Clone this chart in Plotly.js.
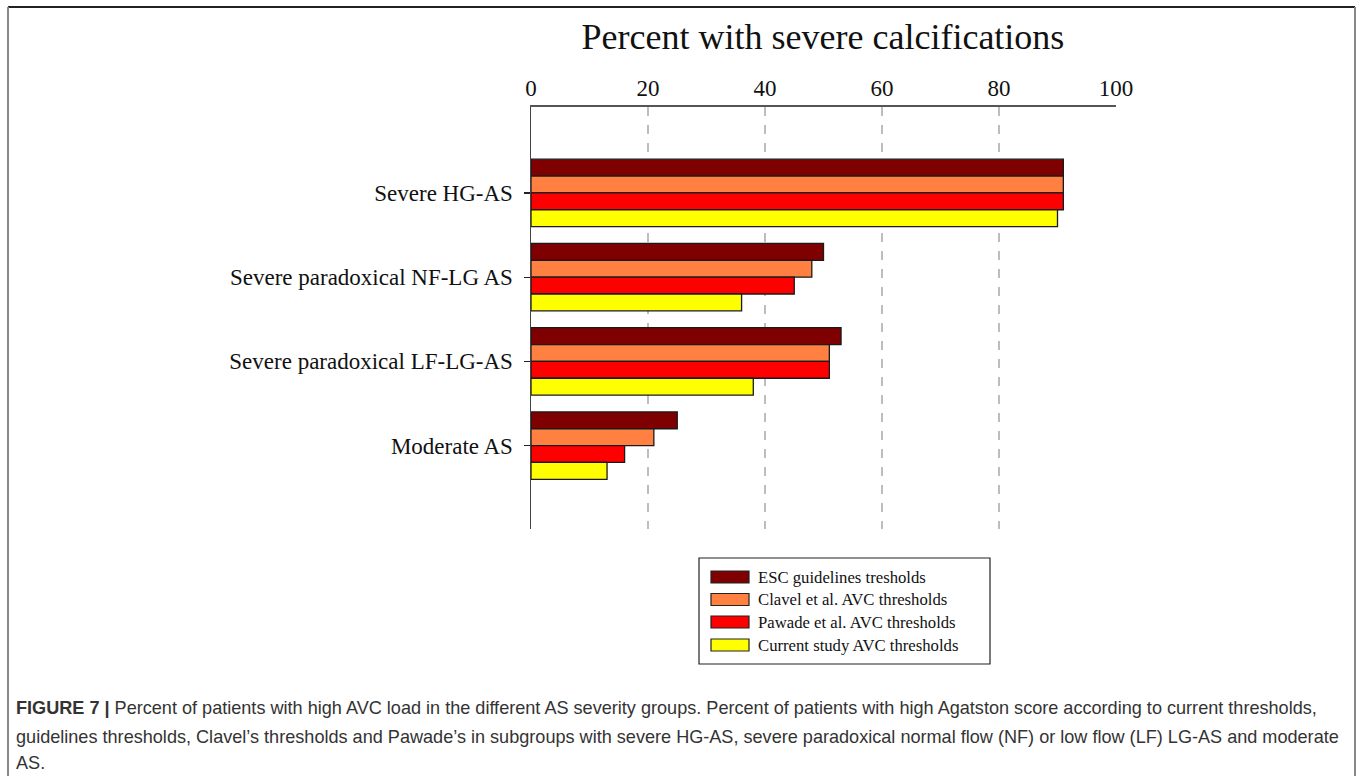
<!DOCTYPE html>
<html>
<head>
<meta charset="utf-8">
<script src="https://cdn.plot.ly/plotly-3.0.1.min.js"></script>
<style>html,body{margin:0;padding:0;background:#fff;}#chart{width:1360px;height:776px;}</style>
</head>
<body>
<div id="chart"></div>
<script>
// ---- data ----
const categories = ["Severe HG-AS", "Severe paradoxical NF-LG AS", "Severe paradoxical LF-LG-AS", "Moderate AS"];
const seriesNames = ["ESC guidelines tresholds", "Clavel et al. AVC thresholds", "Pawade et al. AVC thresholds", "Current study AVC thresholds"];
const escValues = [91, 50, 53, 25];
const clavelValues = [91, 48, 51, 21];
const pawadeValues = [91, 45, 51, 16];
const currentValues = [90, 36, 38, 13];
const xTickValues = [0, 20, 40, 60, 80, 100];
const titleText = "Percent with severe calcifications";
const captionLines = [
  "<b>FIGURE 7 |</b> Percent of patients with high AVC load in the different AS severity groups. Percent of patients with high Agatston score according to current thresholds,",
  "guidelines thresholds, Clavel\u2019s thresholds and Pawade\u2019s in subgroups with severe HG-AS, severe paradoxical normal flow (NF) or low flow (LF) LG-AS and moderate",
  "AS."
];

// ---- styles ----
const colors = ["#7f0000", "#ff8040", "#ff0000", "#ffff00"];
const allValues = [escValues, clavelValues, pawadeValues, currentValues];
const serif = "Liberation Serif, Times New Roman, serif";
const sans = "Liberation Sans, Arial, sans-serif";

const W = 1360, H = 776;
const L = 531, R = 1116, T = 107, B = 529;
const px = x => (x - L) / (R - L);
const py = y => (B - y) / (B - T);

const traces = allValues.map((vals, i) => ({
  type: "bar",
  orientation: "h",
  name: seriesNames[i],
  y: categories,
  x: vals,
  marker: {color: colors[i], line: {color: "#1a1a1a", width: 1.3}},
  hoverinfo: "x+name",
  showlegend: false
}));

const shapes = [];
const annotations = [];

// figure frame
shapes.push({type: "line", xref: "paper", yref: "paper", x0: px(8), x1: px(1355), y0: py(7), y1: py(7), line: {color: "#222", width: 2}});
shapes.push({type: "line", xref: "paper", yref: "paper", x0: px(8), x1: px(8), y0: py(7), y1: py(776), line: {color: "#888", width: 2}});
shapes.push({type: "line", xref: "paper", yref: "paper", x0: px(1355), x1: px(1355), y0: py(7), y1: py(776), line: {color: "#888", width: 2}});

// custom legend box
shapes.push({type: "rect", xref: "paper", yref: "paper", x0: px(699), x1: px(990), y0: py(664), y1: py(558), line: {color: "#222", width: 1.2}, fillcolor: "rgba(0,0,0,0)"});
const legendRowY = [577, 599.5, 622, 645];
seriesNames.forEach((name, i) => {
  const cy = legendRowY[i];
  shapes.push({type: "rect", xref: "paper", yref: "paper", x0: px(711), x1: px(749), y0: py(cy + 6), y1: py(cy - 6), line: {color: "#222", width: 1.2}, fillcolor: colors[i]});
  annotations.push({xref: "paper", yref: "paper", x: px(756), y: py(cy), xanchor: "left", yanchor: "middle", showarrow: false, text: name, font: {family: serif, size: 16.7, color: "#111"}});
});

// caption
const captionY = [708, 737, 763];
captionLines.forEach((t, i) => {
  annotations.push({xref: "paper", yref: "paper", x: px(14), y: py(captionY[i]), xanchor: "left", yanchor: "middle", showarrow: false, text: t, font: {family: sans, size: 18.1, color: "#333"}});
});

const layout = {
  width: W, height: H,
  margin: {l: L, r: W - R, t: T, b: H - B, pad: 0},
  paper_bgcolor: "#fff", plot_bgcolor: "#fff",
  title: {text: titleText, font: {family: serif, size: 36, color: "#111"}, xref: "paper", x: px(823), xanchor: "center", yref: "container", y: 1 - 36 / H, yanchor: "middle"},
  barmode: "group",
  bargap: 0.2,
  bargroupgap: 0,
  xaxis: {
    side: "top", range: [0, 100], tickvals: xTickValues, ticktext: xTickValues.map(String),
    showline: true, linecolor: "#555", linewidth: 2.5, mirror: false,
    showgrid: true, gridcolor: "#bdbdbd", gridwidth: 1.5, griddash: "dash",
    zeroline: false, ticks: "", ticklabelstandoff: -1,
    tickfont: {family: serif, size: 23, color: "#111"}, fixedrange: true
  },
  yaxis: {
    type: "category", categoryorder: "array", categoryarray: categories,
    range: [3.99, -1.02],
    showline: true, linecolor: "#444", linewidth: 1.5,
    showgrid: false, zeroline: false,
    ticks: "outside", ticklen: 6, tickcolor: "#222", tickwidth: 1.2,
    ticklabelstandoff: 6,
    tickfont: {family: serif, size: 23, color: "#111"}, fixedrange: true
  },
  shapes: shapes,
  annotations: annotations,
  showlegend: false
};

Plotly.newPlot("chart", traces, layout, {displayModeBar: false, staticPlot: true});
</script>
</body>
</html>
